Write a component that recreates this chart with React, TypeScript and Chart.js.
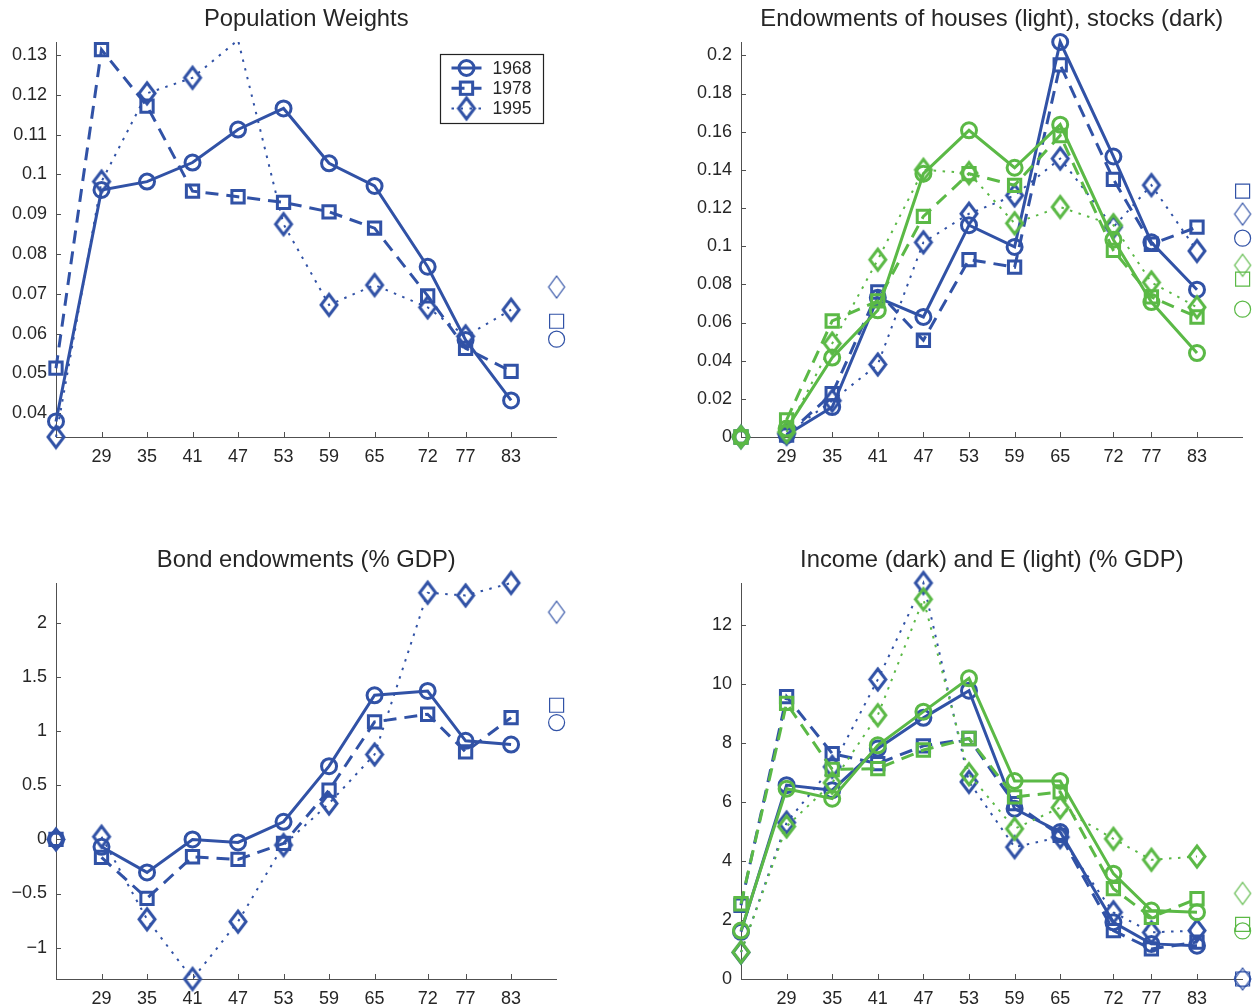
import React, { useEffect, useRef } from "react";
import { Chart, registerables } from "chart.js";

Chart.register(...registerables);

// ---------------- data ----------------
const AGES = [23, 29, 35, 41, 47, 53, 59, 65, 72, 77, 83];
const X_TICKS = [29, 35, 41, 47, 53, 59, 65, 72, 77, 83];
const X_MIN = 23;
const X_MAX = 89;
const END_AGE = 89;

// Population Weights
const POP_1968 = [0.0379, 0.0961, 0.0982, 0.103, 0.1113, 0.1166, 0.1028, 0.0971, 0.0768, 0.0584, 0.0432];
const POP_1978 = [0.0513, 0.1314, 0.1172, 0.0958, 0.0944, 0.093, 0.0906, 0.0865, 0.0695, 0.0563, 0.0505];
const POP_1995 = [0.034, 0.0982, 0.1204, 0.1243, 0.1338, 0.0875, 0.0672, 0.0722, 0.0666, 0.0593, 0.066];
const POP_END = { "1968": 0.0586, "1978": 0.0631, "1995": 0.0717 };
const POP_Y_TICKS = [0.04, 0.05, 0.06, 0.07, 0.08, 0.09, 0.1, 0.11, 0.12, 0.13];
const POP_Y_MIN = 0.034;
const POP_Y_MAX = 0.1333;

// Endowments: stocks (dark) and houses (light)
const STOCK_1968 = [0, 0.001, 0.0157, 0.073, 0.0629, 0.111, 0.0996, 0.207, 0.147, 0.102, 0.0772];
const STOCK_1978 = [0, 0.001, 0.0227, 0.076, 0.0507, 0.093, 0.089, 0.195, 0.135, 0.101, 0.11];
const STOCK_1995 = [0, 0.0017, 0.019, 0.038, 0.102, 0.117, 0.1266, 0.1459, 0.11, 0.132, 0.0975];
const HOUSE_1968 = [0, 0.0044, 0.0416, 0.0664, 0.138, 0.1607, 0.1411, 0.1637, 0.1034, 0.0707, 0.044];
const HOUSE_1978 = [0, 0.009, 0.0608, 0.0713, 0.1156, 0.138, 0.1319, 0.158, 0.0978, 0.0734, 0.0629];
const HOUSE_1995 = [0, 0.0026, 0.049, 0.0929, 0.14, 0.1383, 0.112, 0.1205, 0.111, 0.081, 0.068];
const STOCK_END = { "1968": 0.1042, "1978": 0.1288, "1995": 0.1168 };
const HOUSE_END = { "1968": 0.067, "1978": 0.0827, "1995": 0.09 };
const ENDOW_Y_TICKS = [0, 0.02, 0.04, 0.06, 0.08, 0.1, 0.12, 0.14, 0.16, 0.18, 0.2];
const ENDOW_Y_MIN = 0;
const ENDOW_Y_MAX = 0.207;

// Bond endowments (% GDP)
const BOND_1968 = [0, -0.068, -0.305, 0, -0.028, 0.163, 0.677, 1.332, 1.372, 0.911, 0.877];
const BOND_1978 = [0, -0.166, -0.545, -0.16, -0.185, -0.037, 0.455, 1.086, 1.157, 0.809, 1.126];
const BOND_1995 = [0, 0.025, -0.738, -1.29, -0.76, -0.052, 0.332, 0.785, 2.28, 2.255, 2.37];
const BOND_END = { "1968": 1.08, "1978": 1.24, "1995": 2.1 };
const BOND_Y_TICKS = [-1, -0.5, 0, 0.5, 1, 1.5, 2];
const BOND_Y_MIN = -1.29;
const BOND_Y_MAX = 2.37;

// Income (dark) and E (light) (% GDP)
const INCOME_1968 = [1.6, 6.57, 6.4, 7.81, 8.85, 9.77, 5.77, 4.98, 1.92, 1.19, 1.13];
const INCOME_1978 = [2.5, 9.57, 7.64, 7.3, 7.9, 8.15, 5.94, 4.87, 1.64, 1.02, 1.25];
const INCOME_1995 = [0.9, 5.3, 7.19, 10.15, 13.42, 6.68, 4.47, 4.81, 2.26, 1.58, 1.64];
const E_1968 = [1.64, 6.45, 6.11, 7.92, 9.06, 10.19, 6.71, 6.71, 3.57, 2.32, 2.26];
const E_1978 = [2.55, 9.34, 7.1, 7.13, 7.76, 8.15, 6.17, 6.34, 3.06, 2.09, 2.72];
const E_1995 = [0.91, 5.17, 6.65, 8.94, 12.87, 6.94, 5.09, 5.81, 4.75, 4.04, 4.15];
const INCOME_END = { "1968": 0, "1978": 0, "1995": 0 };
const E_END = { "1968": 1.63, "1978": 1.85, "1995": 2.9 };
const INC_Y_TICKS = [0, 2, 4, 6, 8, 10, 12];
const INC_Y_MIN = 0;
const INC_Y_MAX = 13.42;

const YEARS = ["1968", "1978", "1995"];

// ---------------- styles ----------------
const BLUE = "#3152a6";
const GREEN = "#5bb946";
const TEXT = "#262626";
const AXIS = "#505050";
const FONT = "'Liberation Sans', Arial, Helvetica, sans-serif";
const TITLE_SIZE = 23.8;

type Marker = "circle" | "square" | "diamond";
type LineKind = "solid" | "dash" | "dot";
const KIND: Record<string, { line: LineKind; marker: Marker }> = {
  "1968": { line: "solid", marker: "circle" },
  "1978": { line: "dash", marker: "square" },
  "1995": { line: "dot", marker: "diamond" },
};

function dashFor(k: LineKind): number[] {
  if (k === "dash") return [13, 8];
  if (k === "dot") return [2.5, 6.5];
  return [];
}
function widthFor(k: LineKind): number {
  return k === "dot" ? 2 : 3;
}

interface Series {
  year: string;
  color: string;
  values: number[];
}
interface EndMark {
  year: string;
  color: string;
  value: number;
}
interface PanelSpec {
  title: string;
  left: number;
  top: number;
  width: number;
  height: number;
  padRight: number;
  xh: number;
  yMin: number;
  yMax: number;
  yTicks: number[];
  series: Series[];
  ends: EndMark[];
  hideFirst: boolean;
  legend: boolean;
}

function endsOf(color: string, obj: Record<string, number>, order: string[]): EndMark[] {
  return order.map((y) => ({ year: y, color, value: obj[y] }));
}

const PANELS: PanelSpec[] = [
  {
    title: "Population Weights",
    left: 0, top: 0, width: 628, height: 477, padRight: 71.4, xh: 40,
    yMin: POP_Y_MIN, yMax: POP_Y_MAX, yTicks: POP_Y_TICKS,
    series: [
      { year: "1968", color: BLUE, values: POP_1968 },
      { year: "1978", color: BLUE, values: POP_1978 },
      { year: "1995", color: BLUE, values: POP_1995 },
    ],
    ends: endsOf(BLUE, POP_END, YEARS),
    hideFirst: false,
    legend: true,
  },
  {
    title: "Endowments of houses (light), stocks (dark)",
    left: 685, top: 0, width: 572, height: 477, padRight: 14.4, xh: 40,
    yMin: ENDOW_Y_MIN, yMax: ENDOW_Y_MAX, yTicks: ENDOW_Y_TICKS,
    series: [
      { year: "1968", color: BLUE, values: STOCK_1968 },
      { year: "1978", color: BLUE, values: STOCK_1978 },
      { year: "1995", color: BLUE, values: STOCK_1995 },
      { year: "1968", color: GREEN, values: HOUSE_1968 },
      { year: "1978", color: GREEN, values: HOUSE_1978 },
      { year: "1995", color: GREEN, values: HOUSE_1995 },
    ],
    ends: [...endsOf(BLUE, STOCK_END, YEARS), ...endsOf(GREEN, HOUSE_END, YEARS)],
    hideFirst: true,
    legend: false,
  },
  {
    title: "Bond endowments (% GDP)",
    left: 0, top: 541, width: 628, height: 467, padRight: 71.4, xh: 29,
    yMin: BOND_Y_MIN, yMax: BOND_Y_MAX, yTicks: BOND_Y_TICKS,
    series: [
      { year: "1968", color: BLUE, values: BOND_1968 },
      { year: "1978", color: BLUE, values: BOND_1978 },
      { year: "1995", color: BLUE, values: BOND_1995 },
    ],
    ends: endsOf(BLUE, BOND_END, YEARS),
    hideFirst: true,
    legend: false,
  },
  {
    title: "Income (dark) and E (light) (% GDP)",
    left: 685, top: 541, width: 572, height: 467, padRight: 14.4, xh: 29,
    yMin: INC_Y_MIN, yMax: INC_Y_MAX, yTicks: INC_Y_TICKS,
    series: [
      { year: "1968", color: BLUE, values: INCOME_1968 },
      { year: "1978", color: BLUE, values: INCOME_1978 },
      { year: "1995", color: BLUE, values: INCOME_1995 },
      { year: "1968", color: GREEN, values: E_1968 },
      { year: "1978", color: GREEN, values: E_1978 },
      { year: "1995", color: GREEN, values: E_1995 },
    ],
    ends: [...endsOf(BLUE, INCOME_END, YEARS), ...endsOf(GREEN, E_END, YEARS)],
    hideFirst: false,
    legend: false,
  },
];

// ---------------- marker helpers ----------------
function makeDiamond(color: string, hw: number, hh: number, lw: number): HTMLCanvasElement {
  const pad = Math.ceil(lw) + 3;
  const c = document.createElement("canvas");
  c.width = Math.ceil(2 * hw + 2 * pad);
  c.height = Math.ceil(2 * hh + 2 * pad);
  const g = c.getContext("2d")!;
  const cx = c.width / 2;
  const cy = c.height / 2;
  g.strokeStyle = color;
  g.lineWidth = lw;
  g.lineJoin = "miter";
  g.beginPath();
  g.moveTo(cx, cy - hh);
  g.lineTo(cx + hw, cy);
  g.lineTo(cx, cy + hh);
  g.lineTo(cx - hw, cy);
  g.closePath();
  g.stroke();
  return c;
}

const THICK_R: Record<Marker, number> = { circle: 7.5, square: 8.7, diamond: 10 };
const THIN_R: Record<Marker, number> = { circle: 8, square: 9.9, diamond: 10.5 };

function fmt(v: number): string {
  return String(Number(v.toFixed(6))).replace("-", "\u2212");
}

// ---------------- plugins ----------------
const inwardTicks = {
  id: "inwardTicks",
  beforeDatasetsDraw(chart: any) {
    const { ctx, chartArea, scales } = chart;
    const xs = scales.x;
    const ys = scales.y;
    ctx.save();
    ctx.strokeStyle = AXIS;
    ctx.lineWidth = 1;
    ctx.beginPath();
    xs.ticks.forEach((t: any) => {
      const px = Math.round(xs.getPixelForValue(t.value)) + 0.5;
      ctx.moveTo(px, chartArea.bottom);
      ctx.lineTo(px, chartArea.bottom - 5);
    });
    ys.ticks.forEach((t: any) => {
      const py = Math.round(ys.getPixelForValue(t.value)) + 0.5;
      ctx.moveTo(chartArea.left, py);
      ctx.lineTo(chartArea.left + 5, py);
    });
    ctx.stroke();
    ctx.restore();
  },
};

function drawLegendMarker(ctx: CanvasRenderingContext2D, m: Marker, x: number, y: number, color: string, diamond: HTMLCanvasElement) {
  ctx.save();
  ctx.strokeStyle = color;
  ctx.lineWidth = 3;
  ctx.setLineDash([]);
  if (m === "circle") {
    ctx.beginPath();
    ctx.arc(x, y, THICK_R.circle, 0, Math.PI * 2);
    ctx.stroke();
  } else if (m === "square") {
    const s = THICK_R.square * Math.SQRT1_2;
    ctx.strokeRect(x - s, y - s, 2 * s, 2 * s);
  } else {
    ctx.drawImage(diamond, x - diamond.width / 2, y - diamond.height / 2);
  }
  ctx.restore();
}

// ---------------- panel ----------------
function PanelChart({ p }: { p: PanelSpec }) {
  const ref = useRef<HTMLCanvasElement>(null);

  useEffect(() => {
    const canvas = ref.current;
    if (!canvas) return;

    const thickD: Record<string, HTMLCanvasElement> = {
      [BLUE]: makeDiamond(BLUE, 8, 10.5, 3),
      [GREEN]: makeDiamond(GREEN, 8, 10.5, 3),
    };
    const thinD: Record<string, HTMLCanvasElement> = {
      [BLUE]: makeDiamond(BLUE, 8, 11, 1.2),
      [GREEN]: makeDiamond(GREEN, 8, 11, 1.2),
    };

    const styleFor = (m: Marker, color: string, thin: boolean): any =>
      m === "circle" ? "circle" : m === "square" ? "rect" : thin ? thinD[color] : thickD[color];

    const n = p.series.length;
    const lineSets = p.series.map((s, i) => {
      const k = KIND[s.year];
      const r = THICK_R[k.marker];
      const exceedsTop = s.values.some((v) => v > p.yMax + 1e-9);
      const ds: any = {
        type: "line",
        label: s.year,
        data: AGES.map((a, j) => ({ x: a, y: s.values[j] })),
        borderColor: s.color,
        borderWidth: widthFor(k.line),
        borderDash: dashFor(k.line),
        borderCapStyle: "butt",
        fill: false,
        tension: 0,
        pointStyle: styleFor(k.marker, s.color, false),
        pointRadius: (c: any) => {
          const v = c && c.raw && typeof c.raw === "object" ? c.raw.y : undefined;
          if (v === undefined || v === null) return r;
          return v > p.yMax + 1e-9 || v < p.yMin - 1e-9 ? 0 : r;
        },
        pointHoverRadius: r,
        pointBorderWidth: 3,
        pointHoverBorderWidth: 3,
        pointBorderColor: s.color,
        pointBackgroundColor: "rgba(0,0,0,0)",
        clip: exceedsTop ? { top: 0, left: false, right: false, bottom: false } : false,
        order: n - i + 10,
      };
      if (p.hideFirst) {
        ds.segment = {
          borderColor: (c: any) => (c.p0DataIndex === 0 ? "rgba(0,0,0,0)" : undefined),
        };
      }
      return ds;
    });

    const endSets = p.ends.map((e) => {
      const k = KIND[e.year];
      return {
        type: "line",
        label: e.year + " end",
        data: [{ x: END_AGE, y: e.value }],
        showLine: false,
        pointStyle: styleFor(k.marker, e.color, true),
        pointRadius: THIN_R[k.marker],
        pointHoverRadius: THIN_R[k.marker],
        pointBorderWidth: 1.2,
        pointBorderColor: e.color,
        pointBackgroundColor: "rgba(0,0,0,0)",
        clip: false,
        order: 50,
      };
    });

    const legendPlugin = {
      id: "matlabLegend",
      afterDraw(chart: any) {
        if (!p.legend) return;
        const { ctx, chartArea } = chart;
        const w = 103;
        const h = 69;
        const bx = Math.round(chartArea.right - 13.6 - w) + 0.5;
        const by = Math.round(chartArea.top + 12) + 0.5;
        ctx.save();
        ctx.fillStyle = "#ffffff";
        ctx.fillRect(bx, by, w, h);
        ctx.strokeStyle = "#222222";
        ctx.lineWidth = 1.2;
        ctx.strokeRect(bx, by, w, h);
        p.series.forEach((s, i) => {
          const k = KIND[s.year];
          const y = by + 13.5 + i * 20.2;
          ctx.save();
          ctx.strokeStyle = s.color;
          ctx.lineWidth = widthFor(k.line);
          ctx.setLineDash(dashFor(k.line));
          ctx.beginPath();
          ctx.moveTo(bx + 11, y);
          ctx.lineTo(bx + 41, y);
          ctx.stroke();
          ctx.restore();
          drawLegendMarker(ctx, k.marker, bx + 26, y, s.color, thickD[s.color]);
          ctx.fillStyle = TEXT;
          ctx.font = "17.5px " + FONT;
          ctx.textAlign = "left";
          ctx.textBaseline = "middle";
          ctx.fillText(s.year, bx + 52, y + 1);
        });
        ctx.restore();
      },
    };

    const chart = new Chart(canvas, {
      type: "line",
      data: { datasets: [...lineSets, ...endSets] as any },
      options: {
        responsive: false,
        animation: false,
        events: [],
        layout: { padding: { left: 0, top: 0, right: p.padRight, bottom: 0 } },
        plugins: {
          legend: { display: false },
          tooltip: { enabled: false },
          title: {
            display: true,
            text: p.title,
            fullSize: false,
            color: TEXT,
            font: { family: FONT, size: TITLE_SIZE, weight: "normal" as any },
            padding: { top: 5, bottom: 42 - 5 - TITLE_SIZE * 1.2 },
          },
        },
        scales: {
          x: {
            type: "linear",
            min: X_MIN,
            max: X_MAX,
            afterBuildTicks: (s: any) => {
              s.ticks = X_TICKS.map((v) => ({ value: v }));
            },
            afterFit: (s: any) => {
              s.height = p.xh;
            },
            grid: { display: false, drawTicks: false },
            border: { display: true, color: AXIS, width: 1 },
            ticks: {
              autoSkip: false,
              maxRotation: 0,
              padding: 9,
              color: TEXT,
              font: { family: FONT, size: 18 },
              callback: (v: any) => fmt(Number(v)),
            },
          },
          y: {
            type: "linear",
            min: p.yMin,
            max: p.yMax,
            afterBuildTicks: (s: any) => {
              s.ticks = p.yTicks.map((v) => ({ value: v }));
            },
            afterFit: (s: any) => {
              s.width = 56;
            },
            grid: { display: false, drawTicks: false },
            border: { display: true, color: AXIS, width: 1 },
            ticks: {
              autoSkip: false,
              padding: 9,
              color: TEXT,
              font: { family: FONT, size: 18 },
              callback: (v: any) => fmt(Number(v)),
            },
          },
        },
      } as any,
      plugins: [inwardTicks, legendPlugin],
    });

    return () => chart.destroy();
  }, [p]);

  return (
    <canvas
      ref={ref}
      width={p.width}
      height={p.height}
      style={{ position: "absolute", left: p.left, top: p.top, width: p.width, height: p.height, display: "block" }}
    />
  );
}

export default function App() {
  Chart.defaults.font.family = FONT;
  Chart.defaults.color = TEXT;
  return (
    <div
      style={{
        position: "absolute",
        left: 0,
        top: 0,
        width: 1257,
        height: 1008,
        overflow: "hidden",
        background: "#ffffff",
      }}
    >
      {PANELS.map((p, i) => (
        <PanelChart key={i} p={p} />
      ))}
    </div>
  );
}
